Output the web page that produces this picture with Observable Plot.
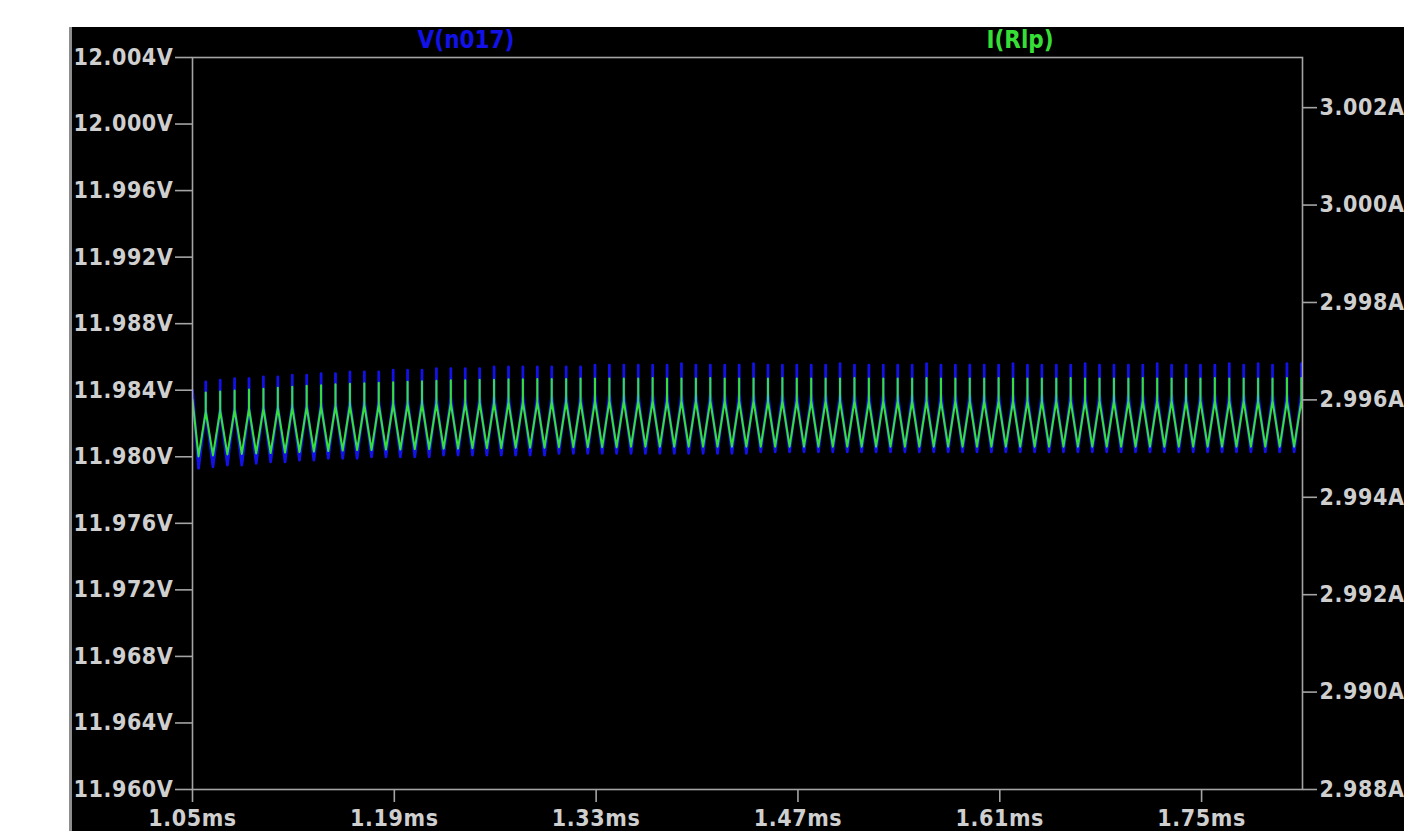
<!DOCTYPE html>
<html>
<head>
<meta charset="utf-8">
<script src="https://cdn.jsdelivr.net/npm/d3@7"></script>
<script src="https://cdn.jsdelivr.net/npm/@observablehq/plot@0.6"></script>
<style>
  html, body { margin: 0; padding: 0; background: #ffffff; width: 1404px; height: 831px; overflow: hidden; }
  #panel { position: absolute; left: 69px; top: 27px; width: 1335px; height: 804px; background: #000; border-left: 3px solid #8e8e8e; box-sizing: border-box; }
  #legend { position: absolute; left: 0; top: 27px; width: 1404px; height: 30px; }
  #legend span { position: absolute; top: 0px; transform: translateX(-50%); font-family: "DejaVu Sans Condensed", "Liberation Sans Narrow", "Liberation Sans", sans-serif; font-weight: bold; font-size: 24px; line-height: 26px; letter-spacing: 0px; white-space: nowrap; }
  #chart { position: absolute; left: 0; top: 0; }
</style>
</head>
<body>
<div id="panel"></div>
<div id="legend"></div>
<div id="chart"></div>
<script>
// ---- series names / colours ----
const seriesNames = ["V(n017)", "I(Rlp)"];
const seriesColors = ["#1212e8", "#36de36"];
const legendCenters = [466, 1020];

// ---- axis ticks ----
const xTicks = [1.05, 1.19, 1.33, 1.47, 1.61, 1.75];
const xDomain = [1.05, 1.82];
const vTicks = [11.960, 11.964, 11.968, 11.972, 11.976, 11.980, 11.984, 11.988, 11.992, 11.996, 12.000, 12.004];
const vDomain = [11.960, 12.004];
const aTicks = [2.988, 2.990, 2.992, 2.994, 2.996, 2.998, 3.000, 3.002];
const aDomain = [2.988, 3.00303];

// ---- waveform samples (ms) ----
const startT = 1.05, endT = 1.8242;
const vStart = 11.9840, vEnd = 11.9803;
const iStart = 2.99600, iEnd = 2.99504;

const troughT = [
1.0542,1.0642,1.0742,1.0842,1.0942,1.1042,1.1142,1.1242,1.1342,1.1442,
1.1542,1.1642,1.1742,1.1842,1.1942,1.2042,1.2142,1.2242,1.2342,1.2442,
1.2542,1.2642,1.2742,1.2842,1.2942,1.3042,1.3142,1.3242,1.3342,1.3442,
1.3542,1.3642,1.3742,1.3842,1.3942,1.4042,1.4142,1.4242,1.4342,1.4442,
1.4542,1.4642,1.4742,1.4842,1.4942,1.5042,1.5142,1.5242,1.5342,1.5442,
1.5542,1.5642,1.5742,1.5842,1.5942,1.6042,1.6142,1.6242,1.6342,1.6442,
1.6542,1.6642,1.6742,1.6842,1.6942,1.7042,1.7142,1.7242,1.7342,1.7442,
1.7542,1.7642,1.7742,1.7842,1.7942,1.8042,1.8142];
const peakT = [
1.0592,1.0692,1.0792,1.0892,1.0992,1.1092,1.1192,1.1292,1.1392,1.1492,
1.1592,1.1692,1.1792,1.1892,1.1992,1.2092,1.2192,1.2292,1.2392,1.2492,
1.2592,1.2692,1.2792,1.2892,1.2992,1.3092,1.3192,1.3292,1.3392,1.3492,
1.3592,1.3692,1.3792,1.3892,1.3992,1.4092,1.4192,1.4292,1.4392,1.4492,
1.4592,1.4692,1.4792,1.4892,1.4992,1.5092,1.5192,1.5292,1.5392,1.5492,
1.5592,1.5692,1.5792,1.5892,1.5992,1.6092,1.6192,1.6292,1.6392,1.6492,
1.6592,1.6692,1.6792,1.6892,1.6992,1.7092,1.7192,1.7292,1.7392,1.7492,
1.7592,1.7692,1.7792,1.7892,1.7992,1.8092,1.8192];

// V(n017) per cycle (V)
const vTrough = [
11.9793,11.9794,11.9795,11.9795,11.9796,11.9797,11.9797,11.9798,11.9798,11.9799,
11.9799,11.9799,11.9800,11.9800,11.9800,11.9800,11.9800,11.9801,11.9801,11.9801,
11.9801,11.9801,11.9801,11.9801,11.9801,11.9802,11.9802,11.9802,11.9802,11.9802,
11.9802,11.9802,11.9802,11.9802,11.9802,11.9802,11.9802,11.9802,11.9802,11.9803,
11.9803,11.9803,11.9803,11.9803,11.9803,11.9803,11.9803,11.9803,11.9803,11.9803,
11.9803,11.9803,11.9803,11.9803,11.9803,11.9803,11.9803,11.9803,11.9803,11.9803,
11.9803,11.9803,11.9803,11.9803,11.9803,11.9803,11.9803,11.9803,11.9803,11.9803,
11.9803,11.9803,11.9803,11.9803,11.9803,11.9803,11.9803];
const vShoulder = [
11.9828,11.9829,11.9830,11.9830,11.9831,11.9831,11.9832,11.9832,11.9833,11.9833,
11.9834,11.9834,11.9834,11.9835,11.9835,11.9835,11.9836,11.9836,11.9836,11.9836,
11.9837,11.9837,11.9837,11.9837,11.9837,11.9837,11.9837,11.9838,11.9838,11.9838,
11.9838,11.9838,11.9838,11.9838,11.9838,11.9838,11.9838,11.9838,11.9838,11.9838,
11.9838,11.9838,11.9838,11.9838,11.9838,11.9838,11.9838,11.9838,11.9838,11.9838,
11.9838,11.9838,11.9838,11.9838,11.9838,11.9838,11.9838,11.9838,11.9838,11.9838,
11.9838,11.9838,11.9838,11.9838,11.9838,11.9838,11.9838,11.9838,11.9838,11.9838,
11.9838,11.9838,11.9838,11.9838,11.9838,11.9838,11.9838];
const vPeak = [
11.9845,11.9846,11.9847,11.9847,11.9848,11.9848,11.9849,11.9849,11.9850,11.9850,
11.9851,11.9851,11.9851,11.9852,11.9852,11.9852,11.9853,11.9853,11.9853,11.9853,
11.9854,11.9854,11.9854,11.9854,11.9854,11.9854,11.9854,11.9855,11.9855,11.9855,
11.9855,11.9855,11.9855,11.9856,11.9855,11.9855,11.9855,11.9855,11.9856,11.9855,
11.9855,11.9855,11.9855,11.9855,11.9856,11.9855,11.9855,11.9855,11.9855,11.9855,
11.9856,11.9855,11.9855,11.9855,11.9855,11.9855,11.9856,11.9855,11.9855,11.9855,
11.9855,11.9856,11.9855,11.9855,11.9855,11.9855,11.9856,11.9855,11.9855,11.9855,
11.9855,11.9856,11.9855,11.9856,11.9855,11.9856,11.9856];

// I(Rlp) per cycle (A)
const iTrough = [
2.99484,2.99486,2.99488,2.99489,2.99490,2.99491,2.99492,2.99493,2.99494,2.99495,
2.99496,2.99497,2.99497,2.99498,2.99498,2.99499,2.99499,2.99500,2.99500,2.99501,
2.99501,2.99501,2.99502,2.99502,2.99502,2.99503,2.99503,2.99503,2.99503,2.99503,
2.99504,2.99504,2.99504,2.99504,2.99504,2.99504,2.99504,2.99504,2.99504,2.99504,
2.99504,2.99504,2.99504,2.99504,2.99504,2.99504,2.99504,2.99504,2.99504,2.99504,
2.99504,2.99504,2.99504,2.99504,2.99504,2.99504,2.99504,2.99504,2.99504,2.99504,
2.99504,2.99504,2.99504,2.99504,2.99504,2.99504,2.99504,2.99504,2.99504,2.99504,
2.99504,2.99504,2.99504,2.99504,2.99504,2.99504,2.99504];
const iShoulder = [
2.99576,2.99578,2.99580,2.99582,2.99583,2.99584,2.99585,2.99586,2.99587,2.99588,
2.99589,2.99590,2.99591,2.99592,2.99592,2.99593,2.99593,2.99594,2.99594,2.99595,
2.99595,2.99596,2.99596,2.99596,2.99597,2.99597,2.99597,2.99598,2.99598,2.99598,
2.99598,2.99598,2.99598,2.99598,2.99598,2.99598,2.99598,2.99598,2.99598,2.99598,
2.99598,2.99598,2.99598,2.99598,2.99598,2.99598,2.99598,2.99598,2.99598,2.99598,
2.99598,2.99598,2.99598,2.99598,2.99598,2.99598,2.99598,2.99598,2.99598,2.99598,
2.99598,2.99598,2.99598,2.99598,2.99598,2.99598,2.99598,2.99598,2.99598,2.99598,
2.99598,2.99598,2.99598,2.99598,2.99598,2.99598,2.99598];
const iPeak = [
2.99615,2.99617,2.99619,2.99621,2.99623,2.99625,2.99627,2.99629,2.99630,2.99632,
2.99633,2.99634,2.99635,2.99636,2.99637,2.99638,2.99639,2.99640,2.99640,2.99641,
2.99641,2.99642,2.99642,2.99643,2.99643,2.99643,2.99644,2.99644,2.99644,2.99644,
2.99644,2.99645,2.99644,2.99644,2.99644,2.99645,2.99644,2.99644,2.99644,2.99644,
2.99645,2.99644,2.99644,2.99644,2.99644,2.99645,2.99644,2.99644,2.99644,2.99644,
2.99645,2.99644,2.99644,2.99644,2.99644,2.99645,2.99644,2.99644,2.99644,2.99644,
2.99645,2.99644,2.99644,2.99644,2.99644,2.99645,2.99644,2.99644,2.99644,2.99644,
2.99645,2.99644,2.99644,2.99644,2.99644,2.99645,2.99645];

// ---- build tables ----
function buildSeries(start, trough, shoulder, peak, end) {
  const pts = [{t: startT, y: start}];
  for (let k = 0; k < peakT.length; k++) {
    pts.push({t: troughT[k], y: trough[k]});
    pts.push({t: peakT[k], y: shoulder[k]});
    pts.push({t: peakT[k], y: peak[k]});
    pts.push({t: peakT[k], y: shoulder[k]});
  }
  pts.push({t: endT, y: end});
  return pts;
}
const vData = buildSeries(vStart, vTrough, vShoulder, vPeak, vEnd);
const iData = buildSeries(iStart, iTrough, iShoulder, iPeak, iEnd);

// secondary (current) axis is mapped onto the voltage scale
const a2v = d3.scaleLinear().domain(aDomain).range(vDomain);

const font = '"DejaVu Sans Condensed", "Liberation Sans Narrow", "Liberation Sans", sans-serif';
const axisGray = "#a4a4a4";
const textGray = "#cfcfcf";

const chart = Plot.plot({
  width: 1404,
  height: 831,
  marginLeft: 192,
  marginRight: 102,
  marginTop: 57,
  marginBottom: 42,
  style: {background: "transparent", color: textGray, fontFamily: font, fontSize: "23px", fontWeight: "bold", letterSpacing: "0.6px", overflow: "visible"},
  x: {domain: xDomain},
  y: {domain: vDomain},
  marks: [
    Plot.line(vData, {x: "t", y: "y", stroke: seriesColors[0], strokeWidth: 2.8, clip: true}),
    Plot.line(iData, {x: "t", y: d => a2v(d.y), stroke: seriesColors[1], strokeWidth: 2.1, clip: true}),
    Plot.frame({stroke: axisGray, strokeWidth: 1.6}),
    Plot.axisY({ticks: vTicks, tickSize: 17, tickPadding: 2, stroke: axisGray, strokeWidth: 1.6,
      tickFormat: d => d.toFixed(3) + "V", label: null}),
    Plot.axisY({anchor: "right", ticks: aTicks.map(a => a2v(a)), tickSize: 14, tickPadding: 3, stroke: axisGray, strokeWidth: 1.6,
      tickFormat: v => a2v.invert(v).toFixed(3) + "A", label: null}),
    Plot.axisX({ticks: xTicks, tickSize: 13, tickPadding: 7, stroke: axisGray, strokeWidth: 1.6,
      tickFormat: d => d.toFixed(2) + "ms", label: null})
  ]
});
document.getElementById("chart").appendChild(chart);

const legend = document.getElementById("legend");
seriesNames.forEach((name, i) => {
  const s = document.createElement("span");
  s.textContent = name;
  s.style.color = seriesColors[i];
  s.style.left = legendCenters[i] + "px";
  legend.appendChild(s);
});
</script>
</body>
</html>
